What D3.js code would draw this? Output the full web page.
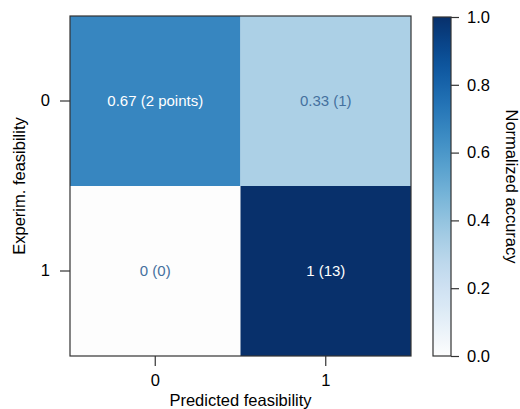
<!DOCTYPE html>
<html>
<head>
<meta charset="utf-8">
<script src="https://cdn.jsdelivr.net/npm/d3@7"></script>
<style>
  html, body { margin: 0; padding: 0; background: #fff; }
  svg { display: block; font-family: "Liberation Sans", Arial, Helvetica, sans-serif; }
</style>
</head>
<body>
<svg id="chart" width="520" height="409"></svg>
<script>
// Confusion matrix: rows = experimental feasibility, columns = predicted feasibility
const predictedLabels = ["0", "1"];
const experimentalLabels = ["0", "1"];
const normalizedAccuracy = [
  [0.67, 0.33],
  [0, 1]
];
const pointCounts = [
  [2, 1],
  [0, 13]
];
const colorbarTicks = [0.0, 0.2, 0.4, 0.6, 0.8, 1.0];

const svg = d3.select("#chart");
const plot = { left: 70, top: 16, right: 411, bottom: 356 };
const bar = { left: 433, right: 451, top: 17, bottom: 356 };
const axisColor = "#333";
const cellFont = 15;
const tickFont = 16.5;
const labelFont = 16.5;

const x = d3.scaleBand().domain(predictedLabels).range([plot.left, plot.right]);
const y = d3.scaleBand().domain(experimentalLabels).range([plot.top, plot.bottom]);

// Blues ramp whose lowest end fades to white
const blues = t => t < 0.15
  ? d3.interpolateRgb("#fdfdfd", d3.interpolateBlues(0.15))(t / 0.15)
  : d3.interpolateBlues(t);
const color = d3.scaleSequential(blues).domain([0, 1]);

// Cells
const cells = [];
experimentalLabels.forEach((r, i) => predictedLabels.forEach((c, j) => {
  cells.push({ row: r, col: c, value: normalizedAccuracy[i][j], count: pointCounts[i][j], label: i === 0 && j === 0 });
}));

svg.append("g").selectAll("rect").data(cells).join("rect")
  .attr("x", d => x(d.col))
  .attr("y", d => y(d.row))
  .attr("width", x.bandwidth())
  .attr("height", y.bandwidth())
  .attr("fill", d => color(d.value));

svg.append("g").selectAll("text").data(cells).join("text")
  .attr("x", d => x(d.col) + x.bandwidth() / 2)
  .attr("y", d => y(d.row) + y.bandwidth() / 2)
  .attr("dy", "0.35em")
  .attr("text-anchor", "middle")
  .attr("font-size", cellFont)
  .attr("fill", d => d.value > 0.5 ? "#ffffff" : "#45709e")
  .text(d => `${d.value} (${d.count}${d.label ? " points" : ""})`);

// Frame around the matrix
svg.append("rect")
  .attr("x", plot.left).attr("y", plot.top)
  .attr("width", plot.right - plot.left).attr("height", plot.bottom - plot.top)
  .attr("fill", "none").attr("stroke", axisColor).attr("stroke-width", 1.2);

// Axes
function styleAxis(g) {
  g.select(".domain").remove();
  g.selectAll(".tick line").attr("stroke", axisColor).attr("stroke-width", 1.2);
  g.selectAll(".tick text").attr("font-size", tickFont).attr("fill", "#000").attr("font-family", null);
}

svg.append("g")
  .attr("transform", `translate(0,${plot.bottom})`)
  .call(d3.axisBottom(x).tickSize(10).tickPadding(8))
  .call(styleAxis);

svg.append("g")
  .attr("transform", `translate(${plot.left},0)`)
  .call(d3.axisLeft(y).tickSize(10).tickPadding(10))
  .call(styleAxis);

svg.append("text")
  .attr("x", (plot.left + plot.right) / 2)
  .attr("y", 406)
  .attr("text-anchor", "middle")
  .attr("font-size", labelFont)
  .text("Predicted feasibility");

svg.append("text")
  .attr("transform", `translate(25,${(plot.top + plot.bottom) / 2}) rotate(-90)`)
  .attr("text-anchor", "middle")
  .attr("font-size", labelFont)
  .text("Experim. feasibility");

// Colorbar
const defs = svg.append("defs");
const grad = defs.append("linearGradient")
  .attr("id", "cbar").attr("x1", 0).attr("y1", 1).attr("x2", 0).attr("y2", 0);
d3.range(0, 1.0001, 0.025).forEach(t => {
  grad.append("stop").attr("offset", t).attr("stop-color", color(t));
});

const cy = d3.scaleLinear().domain([0, 1]).range([bar.bottom, bar.top]);

svg.append("rect")
  .attr("x", bar.left).attr("y", bar.top)
  .attr("width", bar.right - bar.left).attr("height", bar.bottom - bar.top)
  .attr("fill", "url(#cbar)")
  .attr("stroke", axisColor).attr("stroke-width", 1.2);

svg.append("g")
  .attr("transform", `translate(${bar.right},0)`)
  .call(d3.axisRight(cy).tickValues(colorbarTicks).tickFormat(d3.format(".1f")).tickSize(8).tickPadding(8))
  .call(styleAxis);

svg.append("text")
  .attr("transform", `translate(506,${(bar.top + bar.bottom) / 2}) rotate(90)`)
  .attr("text-anchor", "middle")
  .attr("font-size", labelFont)
  .text("Normalized accuracy");
</script>
</body>
</html>
